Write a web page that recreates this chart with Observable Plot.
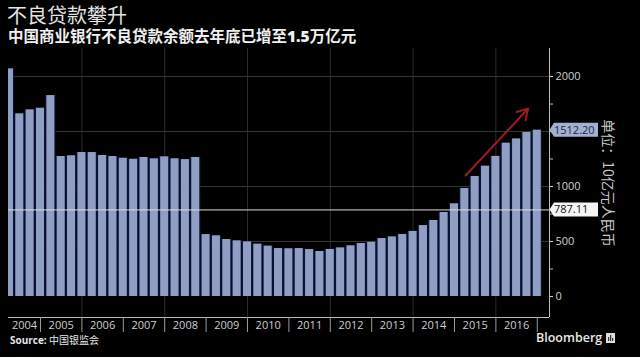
<!DOCTYPE html>
<html>
<head>
<meta charset="utf-8">
<script src="https://cdn.jsdelivr.net/npm/d3@7"></script>
<script src="https://cdn.jsdelivr.net/npm/@observablehq/plot@0.6"></script>
<style>
  html, body { margin:0; padding:0; background:#000; width:640px; height:357px; overflow:hidden; }
  body { position:relative; font-family:"Noto Sans CJK SC","Open Sans",sans-serif; }
  #title { position:absolute; left:7px; top:5px; font-size:20px; line-height:20px; color:#e4e4e4; font-weight:400; white-space:nowrap; }
  #subtitle { position:absolute; left:8px; top:27px; font-size:15.5px; line-height:17px; color:#f0f0f0; font-weight:700; white-space:nowrap; }
  #subtitle b { font-family:"Open Sans",sans-serif; font-weight:800; }
  #chart { position:absolute; left:0; top:44px; }
  #source { position:absolute; left:10px; top:333px; font-size:10px; line-height:14px; color:#e6e6e6; white-space:nowrap; }
  #source b { font-family:"Open Sans",sans-serif; font-weight:700; }
  #brand { position:absolute; left:536px; top:329px; font-family:"Open Sans",sans-serif; font-size:12.5px; line-height:18px; color:#e8e8e8; font-weight:600; white-space:nowrap; }
  #brand svg { vertical-align:-1px; margin-left:4px; }
</style>
</head>
<body>
<div id="title">不良贷款攀升</div>
<div id="subtitle">中国商业银行不良贷款余额去年底已增至<b>1.5</b>万亿元</div>
<div id="chart"></div>
<div id="source"><b>Source:</b> 中国银监会</div>
<div id="brand">Bloomberg<svg width="9" height="10" viewBox="0 0 9 10"><rect width="9" height="10" fill="#dcdcdc"/><rect x="2" y="4" width="1.2" height="4" fill="#333"/><rect x="4" y="2" width="1.2" height="6" fill="#333"/><rect x="6" y="5" width="1.2" height="3" fill="#333"/></svg></div>
<script>
// ---- data (billion yuan, quarterly, 2004Q1 .. 2016Q4) ----
const years = [2004, 2005, 2006, 2007, 2008, 2009, 2010, 2011, 2012, 2013, 2014, 2015, 2016];
const quarters = ["Q1", "Q2", "Q3", "Q4"];
const nplValues = [
  2070, 1661, 1697, 1712,   // 2004
  1827, 1273, 1279, 1309,   // 2005
  1309, 1282, 1273, 1257,   // 2006
  1248, 1264, 1252, 1270,   // 2007
  1252, 1245, 1264, 563,    // 2008
  552, 518, 506, 497,       // 2009
  476, 458, 436, 434,       // 2010
  436, 427, 409, 428,       // 2011
  442, 461, 482, 493,       // 2012
  527, 542, 564, 592,       // 2013
  645, 691, 764, 843,       // 2014
  982, 1091, 1185, 1274,    // 2015
  1394, 1433, 1491, 1512.20 // 2016
];
const yTickValues = [0, 500, 1000, 2000];
const yMinorTicks = [0, 250, 500, 750, 1000, 1250, 1500, 1750, 2000];
const gridValues = [500, 1000, 1500, 2000];
const gridYears = [2006, 2008, 2010, 2012, 2014, 2016];
const referenceLine = [{value: 787.11, label: "787.11"}];
const latestLabel = [{value: 1512.20, label: "1512.20"}];
const trendArrow = [{x1: 2015.27, y1: 1100, x2: 2016.78, y2: 1709}];
const unitLabel = ["单位：10亿元人民币"];

// ---- derived table ----
const rows = years.flatMap((yr, i) => quarters.map((q, j) => ({t: yr + (j + 1) / 4, value: nplValues[i * 4 + j]})));
const xDomain = [2004.227, 2017.295];
const yDomain = [-191, 2255];
const boundaries = years.map(y => y + 1);
const centers = years.map(y => (Math.max(y, xDomain[0]) + y + 1) / 2);

const chart = Plot.plot({
  width: 640, height: 313,
  marginTop: 4, marginBottom: 40, marginLeft: 8, marginRight: 91,
  style: {background: "transparent", color: "#cfcfcf", fontFamily: "'Open Sans', sans-serif", fontSize: "11px"},
  x: {type: "linear", domain: xDomain, axis: null},
  y: {domain: yDomain, axis: null},
  marks: [
    Plot.ruleX(gridYears, {stroke: "#2c2c2c"}),
    Plot.ruleY(gridValues, {stroke: "#353535"}),
    Plot.rect(rows, {x1: d => d.t - 0.125, x2: d => d.t + 0.125, y1: 0, y2: "value", fill: "#0b1336", clip: true}),
    Plot.rect(rows, {x1: d => d.t - 0.097, x2: d => d.t + 0.097, y1: 0, y2: "value", fill: "#8f9fc3", clip: true}),
    Plot.ruleY(referenceLine, {y: "value", stroke: "#dcdcdc", strokeWidth: 1}),
    Plot.ruleY([yDomain[0]], {stroke: "#bdbdbd"}),
    Plot.ruleX([xDomain[1]], {stroke: "#bdbdbd"}),
    Plot.axisX({ticks: boundaries, tickSize: 15, tickFormat: () => "", stroke: "#9a9a9a"}),
    Plot.axisX({ticks: centers, tickSize: 0, tickPadding: 4, tickFormat: d => String(Math.floor(d)), fill: "#cfcfcf", fontSize: 11}),
    Plot.axisY({anchor: "right", ticks: yMinorTicks, tickSize: 3, tickFormat: () => "", stroke: "#bdbdbd"}),
    Plot.axisY({anchor: "right", ticks: yTickValues, tickSize: 3, tickPadding: 3, tickFormat: d => String(d), fill: "#d0d0d0", fontSize: 11}),
    Plot.arrow(trendArrow, {x1: "x1", y1: "y1", x2: "x2", y2: "y2", stroke: "#9a1c22", strokeWidth: 2, headLength: 9}),
    Plot.text(unitLabel, {frameAnchor: "right", dx: 58, rotate: 90, textAnchor: "middle", fill: "#c8c8c8", fontSize: 14, fontFamily: "'Noto Sans CJK SC', sans-serif"})
  ]
});
document.getElementById("chart").appendChild(chart);

// value callouts on the right axis, placed through the plot's scales
const xs = chart.scale("x"), ys = chart.scale("y");
const svg = d3.select(chart);
function callout(list, boxFill, textFill) {
  list.forEach(d => {
    const x0 = xs.apply(xDomain[1]);
    const y = ys.apply(d.value);
    const g = svg.append("g").attr("text-anchor", "start");
    g.append("path")
      .attr("d", `M${x0 + 0.5},${y} L${x0 + 5},${y - 7} H${x0 + 49} V${y + 7} H${x0 + 5} Z`)
      .attr("fill", boxFill);
    g.append("text")
      .attr("x", x0 + 5).attr("y", y).attr("dy", "0.35em")
      .attr("text-anchor", "start")
      .attr("fill", textFill)
      .attr("font-family", "'Open Sans', sans-serif")
      .attr("font-size", 11)
      .text(d.label);
  });
}
callout(latestLabel, "#a3b1ce", "#1b2745");
callout(referenceLine, "#f4f4f4", "#111");
</script>
</body>
</html>
